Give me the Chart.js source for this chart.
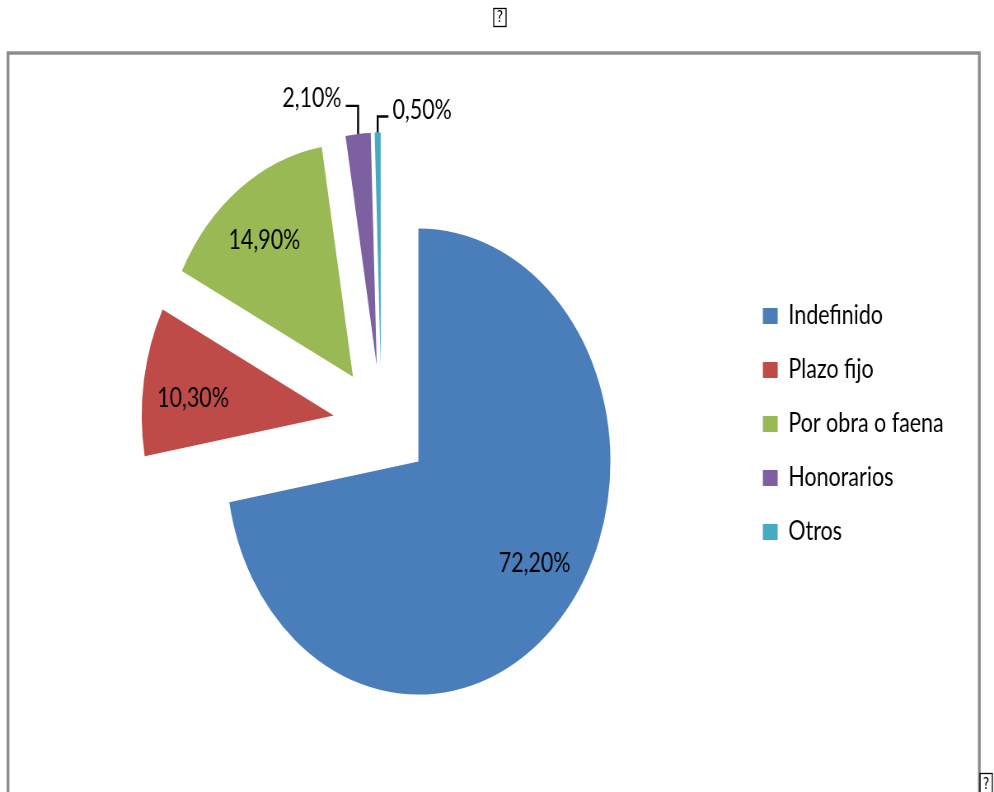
<!DOCTYPE html>
<html>
<head>
<meta charset="utf-8">
<script src="https://cdn.jsdelivr.net/npm/chart.js@4/dist/chart.umd.min.js"></script>
<style>
  html, body { margin: 0; padding: 0; background: #fff; overflow: hidden; }
  #wrap { position: absolute; left: 0; top: 0; width: 1206px; height: 792px;
          transform: scaleX(0.8242); transform-origin: 0 0; }
  canvas { display: block; }
</style>
</head>
<body>
<div id="wrap"><canvas id="c" width="1206" height="792" style="width:1206px;height:792px"></canvas></div>
<script>
// Tipo de contrato (porcentaje de trabajadores)
const categories = ['Indefinido', 'Plazo fijo', 'Por obra o faena', 'Honorarios', 'Otros'];
const shares = [72.2, 10.3, 14.9, 2.1, 0.5];
const sliceColors = ['#4A7EBB', '#BE4B48', '#98B954', '#7D60A0', '#46AAC5'];

// Pie geometry (px)
const PIE_RADIUS = 233;
const EXPLODE = 58.5;          // distance every slice is pulled out from the centre
const LABEL_DEPTH = 0.745;     // value labels sit at this fraction of the radius
const labelNudge = [[8, -9], [1, 9], [-5, 4]];

// Leader-line callouts for the thin slices
const callouts = { 3: { rise: 28, run: -15, side: 'left' }, 4: { rise: 16, run: 13, side: 'right' } };

const fmt = v => v.toFixed(2).replace('.', ',') + '%';

// Pull each slice out along its bisector by moving the arc's own centre
const explode = {
  id: 'explode',
  beforeDatasetsDraw(chart) {
    const a = chart.chartArea;
    const cx = (a.left + a.right) / 2;
    const cy = (a.top + a.bottom) / 2;
    chart.getDatasetMeta(0).data.forEach(arc => {
      const mid = (arc.startAngle + arc.endAngle) / 2;
      arc.x = cx + Math.cos(mid) * EXPLODE;
      arc.y = cy + Math.sin(mid) * EXPLODE;
    });
  }
};

// Grey frame and the two placeholder glyph boxes
const frame = {
  id: 'frame',
  beforeDraw(chart) {
    const ctx = chart.ctx;
    ctx.save();
    ctx.strokeStyle = '#8c8c8c';
    ctx.lineWidth = 3.4;
    ctx.strokeRect(9.7, 53, 1178.5, 800);
    const glyph = (x, y, w, h) => {
      ctx.strokeStyle = '#000';
      ctx.lineWidth = 1.3;
      ctx.strokeRect(x, y, w, h);
      ctx.fillStyle = '#000';
      ctx.font = '15px "DejaVu Sans"';
      ctx.textAlign = 'center';
      ctx.textBaseline = 'middle';
      ctx.fillText('?', x + w / 2, y + h / 2 + 1);
    };
    glyph(599, 8.5, 15, 18);
    glyph(1189, 773.5, 15, 22);
    ctx.restore();
  }
};

// Percent labels: inside the large slices, on callouts for the thin ones
const valueLabels = {
  id: 'valueLabels',
  afterDatasetsDraw(chart) {
    const ctx = chart.ctx;
    const meta = chart.getDatasetMeta(0);
    ctx.save();
    ctx.font = '26px Lato';
    ctx.fillStyle = '#000';
    ctx.textBaseline = 'middle';
    meta.data.forEach((arc, i) => {
      const mid = (arc.startAngle + arc.endAngle) / 2;
      const text = fmt(shares[i]);
      const c = callouts[i];
      if (!c) {
        const [nx, ny] = labelNudge[i] || [0, 0];
        ctx.textAlign = 'center';
        ctx.fillText(text, arc.x + Math.cos(mid) * PIE_RADIUS * LABEL_DEPTH + nx,
                           arc.y + Math.sin(mid) * PIE_RADIUS * LABEL_DEPTH + ny);
        return;
      }
      const ex = arc.x + Math.cos(mid) * arc.outerRadius;
      const ey = arc.y + Math.sin(mid) * arc.outerRadius;
      const ky = ey - c.rise;
      const kx = ex + c.run;
      ctx.strokeStyle = '#000';
      ctx.lineWidth = 2.4;
      ctx.beginPath();
      ctx.moveTo(ex, ey);
      ctx.lineTo(ex, ky);
      ctx.lineTo(kx, ky);
      ctx.stroke();
      if (c.side === 'left') {
        ctx.textAlign = 'right';
        ctx.fillText(text, kx - 5, ky - 7);
      } else {
        ctx.textAlign = 'left';
        ctx.fillText(text, kx + 5, ky - 6);
      }
    });
    ctx.restore();
  }
};

new Chart(document.getElementById('c'), {
  type: 'pie',
  data: {
    labels: categories,
    datasets: [{
      data: shares,
      backgroundColor: sliceColors,
      borderWidth: 0,
      radius: PIE_RADIUS
    }]
  },
  options: {
    responsive: false,
    animation: false,
    layout: { padding: { left: 28, right: 51, top: 56, bottom: 0 } },
    plugins: {
      legend: {
        position: 'right',
        labels: {
          boxWidth: 18,
          boxHeight: 16,
          padding: 28,
          color: '#000',
          font: { family: 'Lato', size: 26 }
        }
      },
      tooltip: { enabled: false }
    }
  },
  plugins: [frame, explode, valueLabels]
});
</script>
</body>
</html>
